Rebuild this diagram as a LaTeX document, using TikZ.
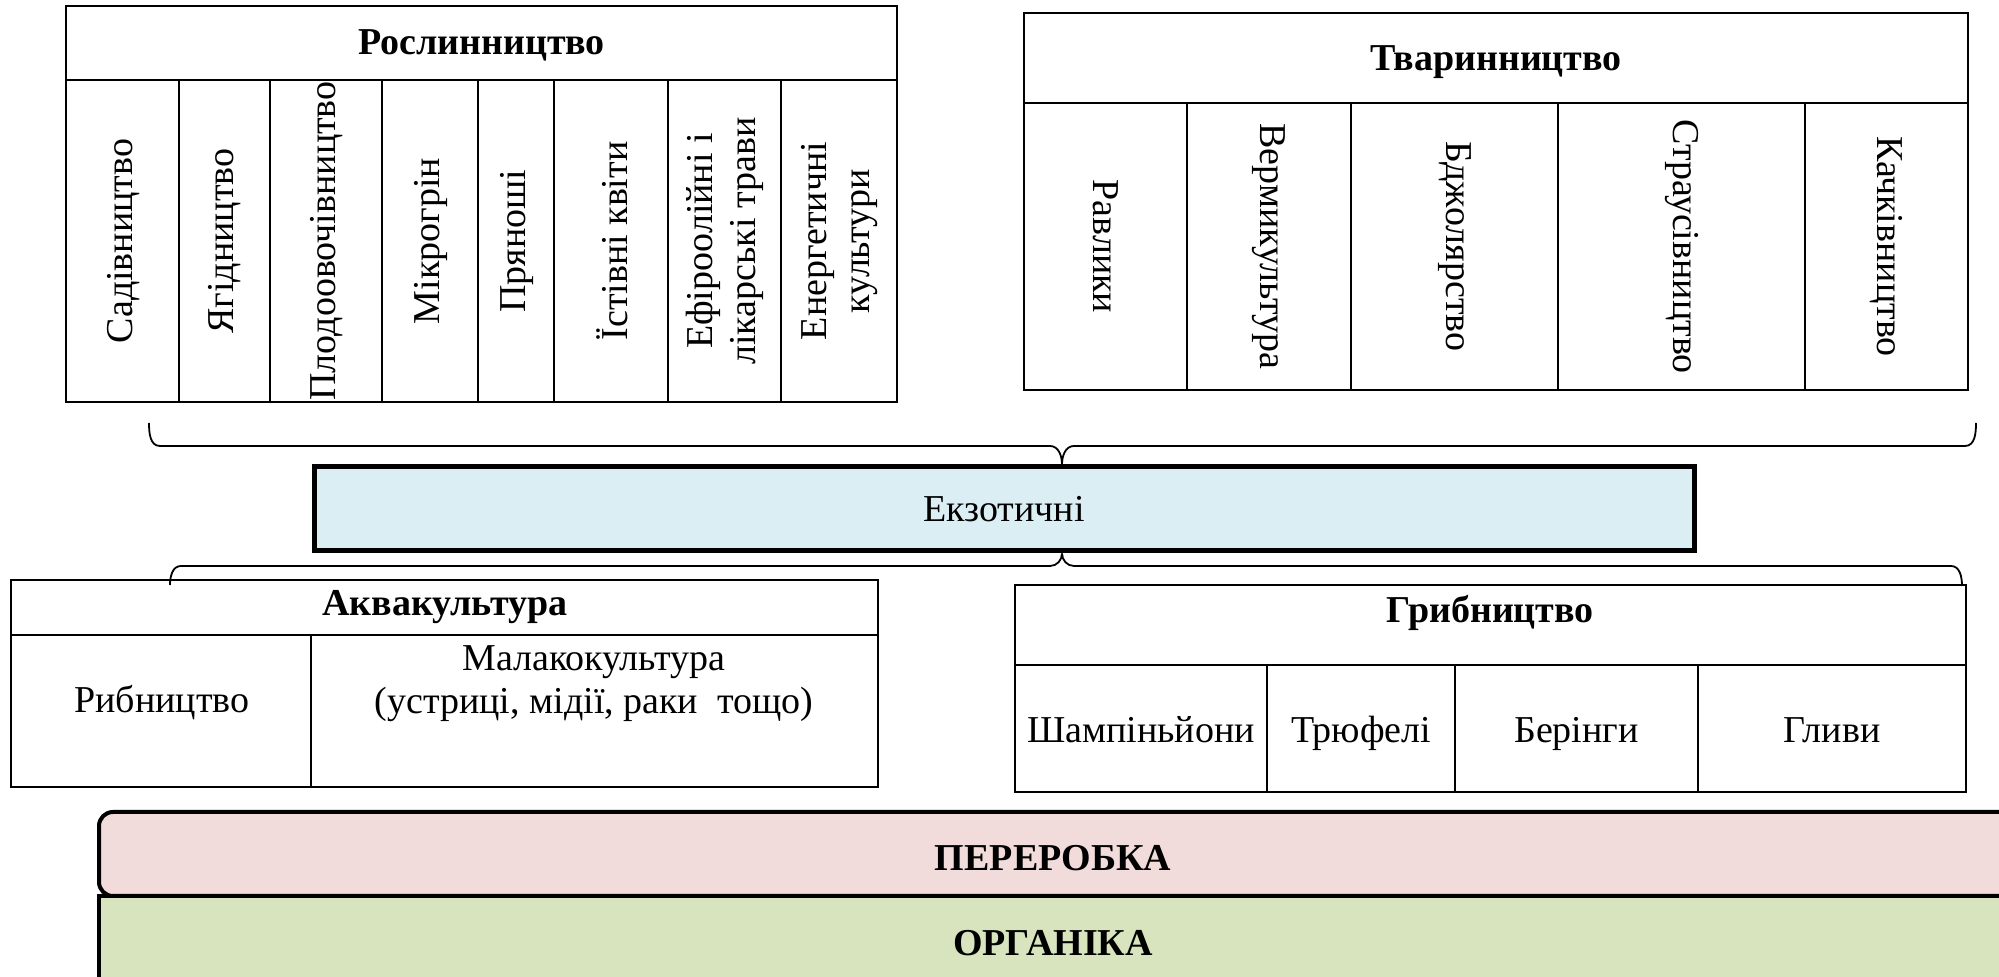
\documentclass[tikz,border=0pt]{standalone}
\usepackage{fontspec}
\setmainfont{Liberation Serif}
\definecolor{exoblue}{HTML}{DAEEF3}
\definecolor{procpink}{HTML}{F2DCDB}
\definecolor{orggreen}{HTML}{D7E4BD}
\begin{document}
\begin{tikzpicture}[x=0.5pt,y=-0.5pt]
\tikzset{
 txt/.style={font=\fontsize{19}{21.5}\selectfont, align=center, inner sep=0pt},
 onel/.style={txt, text height=13pt, text depth=4pt},
 hdr/.style={font=\bfseries\fontsize{19}{22}\selectfont, inner sep=0pt, text height=13pt, text depth=4pt},
 vup/.style={txt, rotate=90},
 vdn/.style={txt, rotate=-90},
 gridline/.style={line width=0.9pt},
 outerline/.style={line width=1.2pt},
 bracel/.style={line width=0.9pt},
}
\useasboundingbox (0,0) rectangle (1999,977);
% ---------- Рослинництво ----------
\draw[outerline] (66,6) rectangle (897,402);
\draw[gridline] (66,80) -- (897,80);
\foreach \x in {179,270,382,478,554,668,781} \draw[gridline] (\x,80) -- (\x,402);
\node[hdr] (ros) at (481.5,46) {Рослинництво};
\node[vup] (r1) at (124,241) {Садівництво};
\node[vup] (r2) at (225,241) {Ягідництво};
\node[vup] (r3) at (327,241) {Плодоовочівництво};
\node[vup] (r4) at (431,241) {Мікрогрін};
\node[vup] (r5) at (517,241) {Пряноші};
\node[vup] (r6) at (612,241) {Їстівні квіти};
\node[vup] (r7) at (725,241) {Ефіроолійні і\\лікарські трави};
\node[vup] (r8) at (840,241) {Енергетичні\\культури};
% ---------- Тваринництво ----------
\draw[outerline] (1024,13) rectangle (1968,390);
\draw[gridline] (1024,103) -- (1968,103);
\foreach \x in {1187,1351,1558,1805} \draw[gridline] (\x,103) -- (\x,390);
\node[hdr] (tva) at (1496,62) {Тваринництво};
\node[vdn] (t1) at (1105.5,246.5) {Равлики};
\node[vdn] (t2) at (1269,246.5) {Вермикультура};
\node[vdn] (t3) at (1454.5,246.5) {Бджолярство};
\node[vdn] (t4) at (1681.5,246.5) {Страусівництво};
\node[vdn] (t5) at (1886.5,246.5) {Качківництво};
% ---------- Екзотичні ----------
\node[draw, line width=2.5pt, fill=exoblue, minimum width=690pt, minimum height=42pt, inner sep=0pt,
  font=\fontsize{19}{22}\selectfont] (exo) at (1004,509) {Екзотичні};
% top brace
\coordinate (tbl) at (149,423);
\coordinate (tbr) at (1976,423);
\coordinate (tbm) at (exo.north -| 1062,0);
\draw[bracel] (tbl) to[out=-90,in=180] (160,446) -- (1050,446) to[out=0,in=90] (tbm);
\draw[bracel] (tbr) to[out=-90,in=0] (1965,446) -- (1074,446) to[out=180,in=90] (tbm);
% bottom brace
\coordinate (bbl) at (170,585);
\coordinate (bbr) at (1962,586);
\coordinate (bbm) at (exo.south -| 1062,0);
\draw[bracel] (bbl) to[out=90,in=180] (181,566) -- (1050,566) to[out=0,in=-90] (bbm);
\draw[bracel] (bbr) to[out=90,in=0] (1951,566) -- (1074,566) to[out=180,in=-90] (bbm);
% ---------- Аквакультура ----------
\draw[outerline] (11,580) rectangle (878,787);
\draw[gridline] (11,635) -- (878,635);
\draw[gridline] (311,635) -- (311,787);
\node[hdr] (akv) at (445,607) {Аквакультура};
\node[onel] (a1) at (162,704) {Рибництво};
\node[txt] (a2) at (594,684) {Малакокультура\\(устриці, мідії, раки\ \ тощо)};
% ---------- Грибництво ----------
\draw[outerline] (1015,585) rectangle (1966,792);
\draw[gridline] (1015,665) -- (1966,665);
\foreach \x in {1267,1455,1698} \draw[gridline] (\x,665) -- (\x,792);
\node[hdr] (gry) at (1490,614) {Грибництво};
\node[onel] (g1) at (1141,734) {Шампіньйони};
\node[onel] (g2) at (1361,734) {Трюфелі};
\node[onel] (g3) at (1576.5,734) {Берінги};
\node[onel] (g4) at (1832,734) {Гливи};
% ---------- Органіка / Переробка ----------
\draw[line width=2pt, fill=orggreen] (99,896) rectangle (2030,1000);
\node[hdr] (org) at (1053,947) {ОРГАНІКА};
\draw[line width=2pt, fill=procpink, rounded corners=7pt] (99,812) rectangle (2030,896);
\node[hdr] (per) at (1053,862) {ПЕРЕРОБКА};
\end{tikzpicture}
\end{document}
